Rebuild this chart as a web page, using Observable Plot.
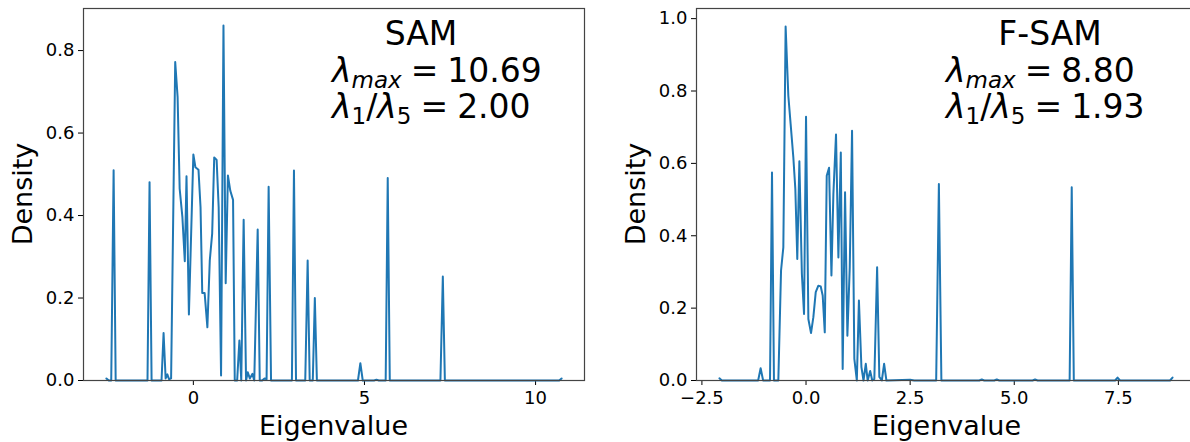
<!DOCTYPE html>
<html><head><meta charset="utf-8">
<script src="https://cdn.jsdelivr.net/npm/d3@7"></script>
<script src="https://cdn.jsdelivr.net/npm/@observablehq/plot@0.6"></script>
<style>
html,body{margin:0;padding:0;background:#fff;overflow:hidden;}
#wrap{position:relative;width:1190px;height:442px;overflow:hidden;}
#wrap svg{position:absolute;top:0;}
</style></head><body><div id="wrap"></div>
<script>
// ---- SAM panel data (eigenvalue, density) ----
const samX = [-2.54,-2.47,-2.40,-2.33,-2.27,-1.34,-1.28,-1.22,-0.93,-0.87,-0.81,-0.76,-0.71,-0.65,
  -0.53,-0.46,-0.40,-0.32,-0.25,-0.20,-0.13,0.0,0.06,0.15,0.21,0.26,0.33,0.41,0.48,0.55,0.61,0.68,0.74,0.81,
  0.88,0.945,1.01,1.08,1.16,1.21,1.28,1.345,1.40,1.47,1.54,1.59,1.65,1.725,1.78,1.88,1.94,2.01,2.08,2.14,2.20,2.27,
  2.88,2.94,3.00,3.27,3.34,3.40,3.49,3.55,3.61,4.81,4.88,4.95,5.28,5.35,5.42,5.62,5.68,5.74,7.22,7.29,7.35,10.69,10.76];
const samY = [0.005,0,0,0.51,0,0,0.481,0,0,0.115,0.005,0.015,0.003,0.005,
  0.772,0.687,0.465,0.396,0.289,0.495,0.16,0.548,0.517,0.511,0.42,0.212,0.212,0.129,0.291,0.356,0.541,0.535,0.42,0.012,
  0.861,0.236,0.497,0.46,0.438,0,0,0.097,0,0.39,0,0.02,0.005,0.016,0,0.366,0,0,0.005,0.003,0.47,0,
  0,0.509,0,0,0.291,0,0,0.20,0,0,0.042,0,0,0.002,0,0,0.491,0,0,0.252,0,0,0.005];

// ---- F-SAM panel data ----
const fsamX = [-2.08,-2.02,-1.15,-1.09,-1.03,-0.865,-0.817,-0.77,-0.665,-0.60,-0.545,-0.49,-0.425,-0.37,-0.305,-0.257,
  -0.21,-0.16,-0.10,-0.048,0.0,0.056,0.12,0.176,0.233,0.296,0.353,0.40,0.45,0.497,0.553,0.61,0.657,0.72,0.777,0.835,
  0.88,0.937,0.993,1.05,1.105,1.16,1.22,1.27,1.33,1.38,1.435,1.48,1.54,1.59,1.64,1.707,1.76,1.82,1.875,1.93,2.5,2.6,
  3.125,3.19,3.25,4.16,4.22,4.28,4.52,4.58,4.64,5.44,5.5,5.56,6.33,6.38,6.43,7.42,7.48,7.54,8.74,8.80];
const fsamY = [0.006,0,0,0.034,0,0,0.575,0,0,0.304,0.368,0.978,0.787,0.709,0.617,0.53,
  0.336,0.606,0.295,0.184,0.729,0.17,0.131,0.175,0.244,0.262,0.26,0.235,0.133,0.566,0.588,0.29,0.516,0.68,0.34,0.63,
  0.032,0.52,0.124,0.313,0.69,0.06,0,0.221,0.037,0,0.046,0,0.026,0,0.004,0.313,0.01,0,0.046,0,0.002,0,
  0,0.543,0,0,0.003,0,0,0.003,0,0,0.003,0,0,0.534,0,0,0.008,0,0,0.008];

// ---- ticks & labels ----
const samXTicks = [0, 5, 10];
const samYTicks = [0, 0.2, 0.4, 0.6, 0.8];
const fsamXTicks = [-2.5, 0, 2.5, 5, 7.5];
const fsamYTicks = [0, 0.2, 0.4, 0.6, 0.8, 1.0];
const xLabel = "Eigenvalue";
const yLabel = "Density";
const samTitle = "SAM", samLmax = "10.69", samRatio = "2.00";
const fsamTitle = "F-SAM", fsamLmax = "8.80", fsamRatio = "1.93";

const FONT = "DejaVu Sans";

function panel(o) {
  const data = o.xs.map((x, i) => ({x, y: o.ys[i]}));
  const svg = Plot.plot({
    width: o.width, height: 442,
    marginLeft: o.ml, marginRight: o.mr, marginTop: 8, marginBottom: 62,
    style: {fontFamily: FONT, fontSize: "18px", color: "#000", background: "transparent", overflow: "visible"},
    x: {domain: o.xDomain, ticks: o.xTicks, tickFormat: o.xFmt, tickSize: 5, tickPadding: 6, label: null},
    y: {domain: o.yDomain, ticks: o.yTicks, tickFormat: d3.format(".1f"), tickSize: 5, tickPadding: 4, label: null},
    marks: [
      Plot.line(data, {x: "x", y: "y", stroke: "#1f77b4", strokeWidth: 2}),
      Plot.frame({stroke: "#444", strokeWidth: 1.2})
    ]
  });
  svg.style.left = o.left + "px";
  const s = d3.select(svg);
  const frameL = o.ml, frameR = o.width - o.mr;
  s.append("text").attr("transform", `translate(${frameL - 51},194) rotate(-90)`)
    .attr("text-anchor", "middle").attr("font-family", FONT).attr("font-size", 27).attr("fill", "#000").text(yLabel);
  s.append("text").attr("x", (frameL + frameR) / 2).attr("y", 435)
    .attr("text-anchor", "middle").attr("font-family", FONT).attr("font-size", 27).attr("fill", "#000").text(xLabel);
  // annotation
  s.append("text").attr("x", o.titleX).attr("y", 45).attr("text-anchor", "middle")
    .attr("font-family", FONT).attr("font-size", 33).attr("fill", "#000").text(o.title);
  const t2 = s.append("text").attr("x", o.lineX).attr("y", 82).attr("text-anchor", "start")
    .attr("font-family", FONT).attr("font-size", 33).attr("fill", "#000");
  t2.append("tspan").attr("font-style", "italic").text("λ");
  t2.append("tspan").attr("font-size", 23).attr("font-style", "italic").attr("dy", 6).text("max");
  t2.append("tspan").attr("dy", -6).attr("dx", 9).text("=");
  t2.append("tspan").attr("dx", 9).text(o.lmax);
  const t3 = s.append("text").attr("x", o.lineX).attr("y", 118).attr("text-anchor", "start")
    .attr("font-family", FONT).attr("font-size", 33).attr("fill", "#000");
  t3.append("tspan").attr("font-style", "italic").text("λ");
  t3.append("tspan").attr("font-size", 23).attr("dy", 6).text("1");
  t3.append("tspan").attr("dy", -6).text("/");
  t3.append("tspan").attr("font-style", "italic").text("λ");
  t3.append("tspan").attr("font-size", 23).attr("dy", 6).text("5");
  t3.append("tspan").attr("dy", -6).attr("dx", 9).text("=");
  t3.append("tspan").attr("dx", 9).text(o.ratio);
  return svg;
}

const wrap = document.getElementById("wrap");
wrap.appendChild(panel({
  xs: samX, ys: samY, xDomain: [-3.21, 11.43], yDomain: [0, 0.902],
  xTicks: samXTicks, yTicks: samYTicks, xFmt: d => String(d),
  width: 595, ml: 83, mr: 11, left: 0,
  title: samTitle, lmax: samLmax, ratio: samRatio, titleX: 421, lineX: 332
}));
wrap.appendChild(panel({
  xs: fsamX, ys: fsamY, xDomain: [-2.63, 9.40], yDomain: [0, 1.028],
  xTicks: fsamXTicks, yTicks: fsamYTicks, xFmt: d3.format(".1f"),
  width: 615, ml: 101, mr: 13, left: 595,
  title: fsamTitle, lmax: fsamLmax, ratio: fsamRatio, titleX: 455, lineX: 351
}));
</script></body></html>
